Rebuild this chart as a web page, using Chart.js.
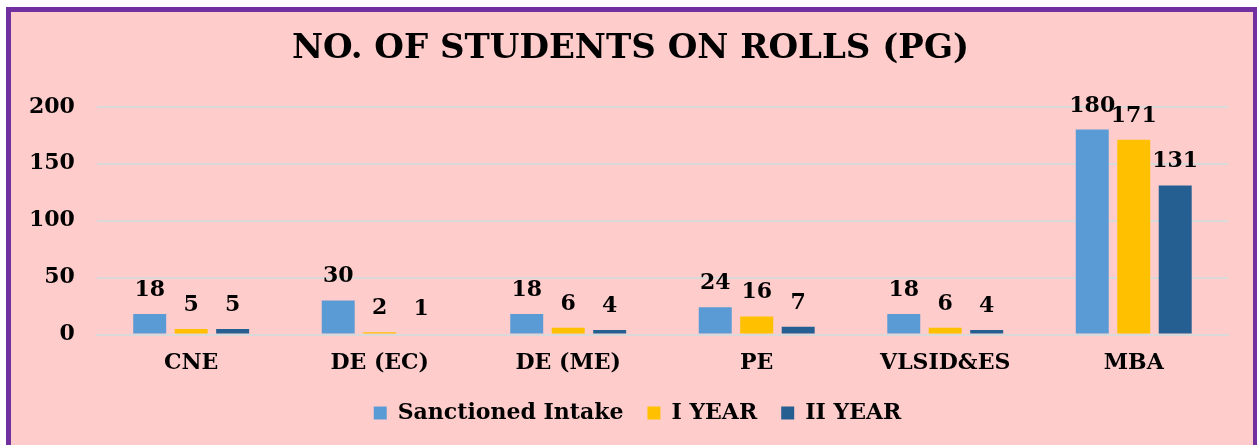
<!DOCTYPE html>
<html>
<head>
<meta charset="utf-8">
<script src="https://cdn.jsdelivr.net/npm/chart.js@4.4.1/dist/chart.umd.min.js"></script>
<style>
  html, body { margin: 0; padding: 0; background: #fff; overflow: hidden; }
  #frame {
    position: absolute; left: 6px; top: 7px;
    width: 1242px; height: 440px;
    border: 5px solid #7030A0;
    background: #FFCCCC;
  }
  #chart { display: block; }
</style>
</head>
<body>
<div id="frame"><canvas id="chart" width="1242" height="440"></canvas></div>
<script>
// ── DADOS ─────────────────────────────────────────────────────────

const categories = ['CNE', 'DE (EC)', 'DE (ME)', 'PE', 'VLSID&ES', 'MBA'];
const sanctioned = [18, 30, 18, 24, 18, 180];
const firstYear  = [5, 2, 6, 16, 6, 171];
const secondYear = [5, 1, 4, 7, 4, 131];
const yTicks     = [0, 50, 100, 150, 200];

const FONT = '"DejaVu Serif", "Liberation Serif", serif';

// rótulos por cima das barras (sem plugin externo)
const barLabels = {
  id: 'barLabels',
  afterDatasetsDraw(chart) {
    const ctx = chart.ctx;
    ctx.save();
    ctx.font = 'bold 22px ' + FONT;
    ctx.fillStyle = '#000';
    ctx.textAlign = 'center';
    ctx.textBaseline = 'alphabetic';
    chart.data.datasets.forEach((ds, i) => {
      chart.getDatasetMeta(i).data.forEach((bar, j) => {
        ctx.fillText(ds.data[j], bar.x, bar.y - 18);
      });
    });
    ctx.restore();
  }
};

// título e legenda ligeiramente à direita, como no original
const nudge = {
  id: 'nudge',
  afterLayout(chart) {
    const t = chart.titleBlock, l = chart.legend;
    if (t) { t.left += 13; t.right += 13; }
    if (l) { l.left += 20; l.right += 20; }
  }
};

new Chart(document.getElementById('chart'), {
  type: 'bar',
  data: {
    labels: categories,
    datasets: [
      { label: 'Sanctioned Intake', data: sanctioned, backgroundColor: '#5B9BD5' },
      { label: 'I YEAR',            data: firstYear,  backgroundColor: '#FFC000' },
      { label: 'II YEAR',           data: secondYear, backgroundColor: '#255E91' },
    ],
  },
  options: {
    responsive: false,
    animation: false,
    categoryPercentage: 0.66,
    barPercentage: 0.795,
    layout: { padding: { left: -4, right: 25, top: 0, bottom: 18 } },
    plugins: {
      title: {
        display: true,
        text: 'NO. OF STUDENTS ON ROLLS (PG)',
        color: '#000',
        font: { family: FONT, size: 34, weight: 'bold' },
        padding: { top: 17, bottom: 37 },
      },
      legend: {
        position: 'bottom',
        labels: {
          color: '#000',
          font: { family: FONT, size: 22, weight: 'bold' },
          boxWidth: 13, boxHeight: 13,
          padding: 24,
        },
      },
      tooltip: { enabled: false },
    },
    scales: {
      x: {
        grid: { display: false, drawTicks: false },
        border: { display: true, color: '#D9D9D9', width: 2 },
        ticks: { color: '#000', font: { family: FONT, size: 22, weight: 'bold' }, padding: 15 },
        afterFit(axis) { axis.height -= 13; },
      },
      y: {
        min: 0, max: 200,
        afterBuildTicks(axis) { axis.ticks = yTicks.map(v => ({ value: v })); },
        grid: { color: '#D9D9D9', lineWidth: 2, drawTicks: false },
        border: { display: false },
        ticks: { color: '#000', font: { family: FONT, size: 22, weight: 'bold' }, padding: 22 },
      },
    },
  },
  plugins: [barLabels, nudge],
});
</script>
</body>
</html>
